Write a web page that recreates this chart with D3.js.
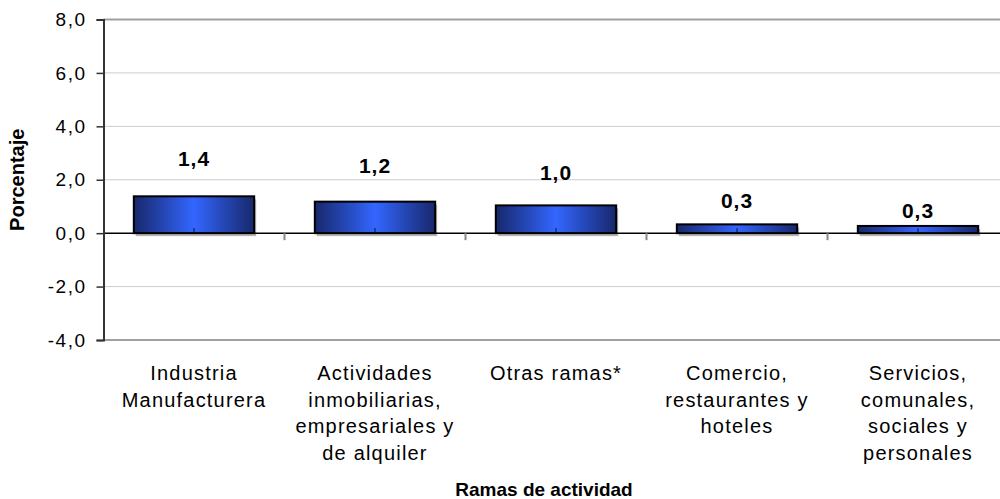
<!DOCTYPE html>
<html>
<head>
<meta charset="utf-8">
<script src="https://cdn.jsdelivr.net/npm/d3@7"></script>
<style>
  body { margin: 0; background: #fff; }
  svg { display: block; font-family: "Liberation Sans", Arial, sans-serif; }
</style>
</head>
<body>
<svg id="chart" width="1000" height="499"></svg>
<script>
var categories = [
  ["Industria", "Manufacturera"],
  ["Actividades", "inmobiliarias,", "empresariales y", "de alquiler"],
  ["Otras ramas*"],
  ["Comercio,", "restaurantes y", "hoteles"],
  ["Servicios,", "comunales,", "sociales y", "personales"]
];
var values = [1.38, 1.18, 1.04, 0.33, 0.27];
var yTicks = [-4, -2, 0, 2, 4, 6, 8];

// label lift above each bar, as placed in the original
var labelGap = [30, 29, 25, 16, 8];

var margin = { top: 19.5, left: 103.5 },
  plotW = 905,
  plotH = 320.5,
  svg = d3.select("#chart"),
  fmt = function(v) { return d3.format(".1f")(v).replace(".", ",").replace("\u2212", "-"); };

var x = d3.scaleBand()
  .domain(d3.range(categories.length))
  .range([margin.left, margin.left + plotW])
  .paddingInner(0.335)
  .paddingOuter(0.1675);

var y = d3.scaleLinear()
  .domain([-4, 8])
  .range([margin.top + plotH, margin.top]);

var defs = svg.append("defs");
var grad = defs.append("linearGradient")
  .attr("id", "barGrad")
  .attr("x1", "0%").attr("x2", "100%")
  .attr("y1", "0%").attr("y2", "0%");
grad.append("stop").attr("offset", "0%").attr("stop-color", "#17286b");
grad.append("stop").attr("offset", "50%").attr("stop-color", "#3366ff");
grad.append("stop").attr("offset", "100%").attr("stop-color", "#17286b");

// gridlines
svg.append("g")
  .selectAll("line")
  .data(yTicks.filter(function(t) { return t !== 0; }))
  .enter().append("line")
    .attr("x1", margin.left)
    .attr("x2", margin.left + plotW)
    .attr("y1", function(d) { return y(d); })
    .attr("y2", function(d) { return y(d); })
    .attr("stroke", function(d) { return (d === 8 || d === -4) ? "#a0a0a0" : "#cccccc"; })
    .attr("stroke-width", function(d) { return (d === 8 || d === -4) ? 2 : 1; });

// bar shadows
svg.append("g")
  .selectAll("rect")
  .data(values)
  .enter().append("rect")
    .attr("x", function(d, i) { return x(i) + 2; })
    .attr("y", function(d) { return y(d) + 3; })
    .attr("width", x.bandwidth())
    .attr("height", function(d) { return y(0) - y(d); })
    .attr("fill", "#b8b8b8");

// bars
svg.append("g")
  .selectAll("rect")
  .data(values)
  .enter().append("rect")
    .attr("x", function(d, i) { return x(i); })
    .attr("y", function(d) { return y(d); })
    .attr("width", x.bandwidth())
    .attr("height", function(d) { return y(0) - y(d); })
    .attr("fill", "url(#barGrad)")
    .attr("stroke", "#000")
    .attr("stroke-width", 2);

// small marks at bar centres
svg.append("g")
  .selectAll("line")
  .data(values)
  .enter().append("line")
    .attr("x1", function(d, i) { return x(i) + x.bandwidth() / 2; })
    .attr("x2", function(d, i) { return x(i) + x.bandwidth() / 2; })
    .attr("y1", y(0))
    .attr("y2", function(d) { return Math.max(y(d), y(0) - 5); })
    .attr("stroke", "#111")
    .attr("stroke-width", 1);

// zero line with category ticks
svg.append("line")
  .attr("x1", margin.left).attr("x2", margin.left + plotW)
  .attr("y1", y(0)).attr("y2", y(0))
  .attr("stroke", "#000").attr("stroke-width", 1.5);

svg.append("g")
  .selectAll("line")
  .data(d3.range(1, categories.length))
  .enter().append("line")
    .attr("x1", function(i) { return x(i) - x.step() * x.paddingInner() / 2; })
    .attr("x2", function(i) { return x(i) - x.step() * x.paddingInner() / 2; })
    .attr("y1", y(0))
    .attr("y2", y(0) + 7)
    .attr("stroke", "#888")
    .attr("stroke-width", 2);

// y axis
var yAxis = svg.append("g")
  .attr("transform", "translate(" + margin.left + ",0)")
  .call(d3.axisLeft(y).tickValues(yTicks).tickSize(7).tickPadding(10).tickFormat(fmt));
yAxis.select(".domain").attr("stroke", "#333").attr("stroke-width", 2);
yAxis.selectAll(".tick line").attr("stroke", "#333").attr("stroke-width", 1.5);
yAxis.selectAll(".tick text")
  .attr("fill", "#000")
  .style("font-size", "19px")
  .style("letter-spacing", "1.5px")
  .style("font-family", "Liberation Sans, Arial, sans-serif");

// value labels
svg.append("g")
  .selectAll("text")
  .data(values)
  .enter().append("text")
    .attr("x", function(d, i) { return x(i) + x.bandwidth() / 2; })
    .attr("y", function(d, i) { return y(d) - labelGap[i]; })
    .attr("text-anchor", "middle")
    .style("font-size", "21px")
    .style("font-weight", "bold")
    .style("letter-spacing", "1px")
    .text(fmt);

// category labels
svg.append("g")
  .selectAll("text")
  .data(categories)
  .enter().append("text")
    .attr("text-anchor", "middle")
    .style("font-size", "20px")
    .style("letter-spacing", "1.2px")
    .each(function(lines, i) {
      var t = d3.select(this);
      lines.forEach(function(line, k) {
        t.append("tspan")
          .attr("x", x(i) + x.bandwidth() / 2)
          .attr("y", 380 + k * 26.5)
          .text(line);
      });
    });

// axis titles
svg.append("text")
  .attr("x", 544)
  .attr("y", 496)
  .attr("text-anchor", "middle")
  .style("font-size", "19px")
  .style("font-weight", "bold")
  .text("Ramas de actividad");

svg.append("text")
  .attr("transform", "translate(24," + (margin.top + plotH / 2) + ") rotate(-90)")
  .attr("text-anchor", "middle")
  .style("font-size", "20px")
  .style("font-weight", "bold")
  .text("Porcentaje");
</script>
</body>
</html>
